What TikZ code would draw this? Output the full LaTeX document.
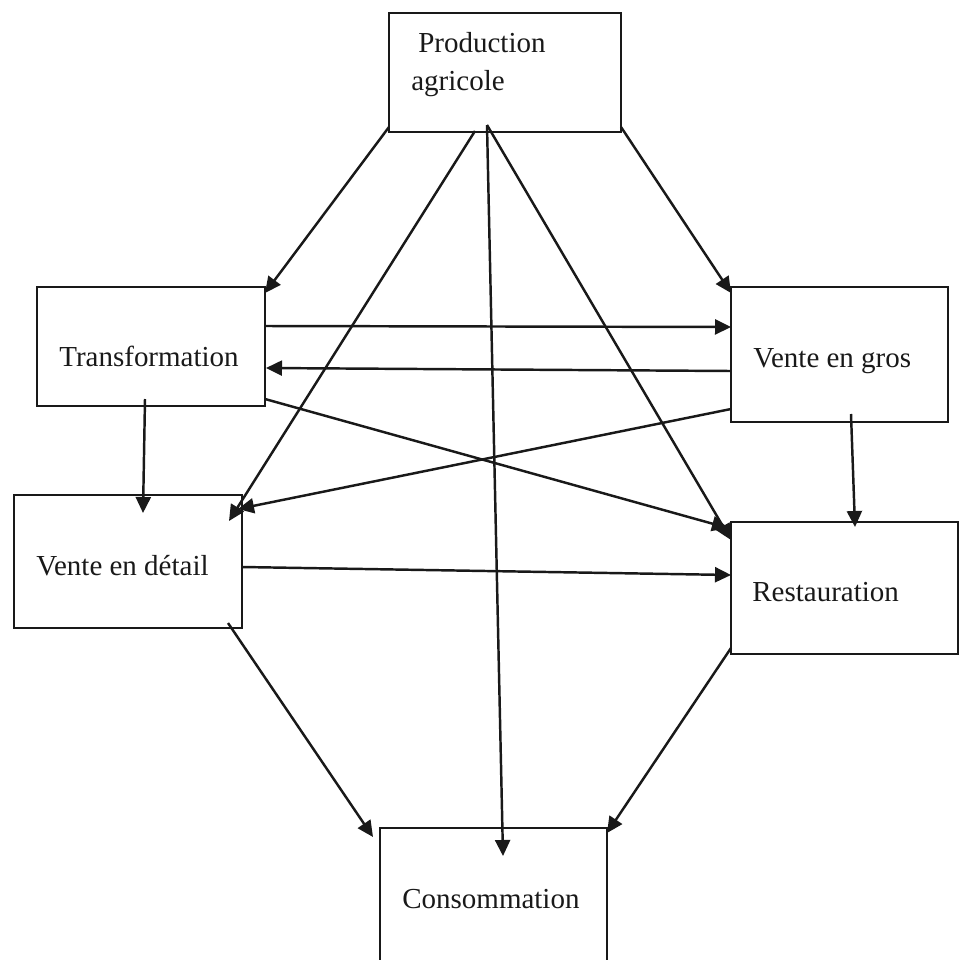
\documentclass[tikz,border=0pt]{standalone}
\usepackage{fontspec}
\setmainfont{Liberation Serif}
\usetikzlibrary{arrows.meta,fit}
\begin{document}
\begin{tikzpicture}[x=0.02cm,y=-0.02cm,
  box/.style={draw=black!90,line width=1.3pt,inner sep=0pt},
  lbl/.style={anchor=base west,inner sep=0pt,font=\fontsize{16.5}{20}\selectfont,text=black!90},
  conn/.style={draw=black!90,line width=1.4pt,-{Triangle[length=0.32cm,width=0.30cm]}}]
\useasboundingbox (0,0) rectangle (960,960);
\clip (0,0) rectangle (960,960);
% corner coordinates of boxes
\coordinate (prodA) at (389,13);  \coordinate (prodB) at (621,132);
\coordinate (transA) at (37,287); \coordinate (transB) at (265,406);
\coordinate (grosA) at (731,287); \coordinate (grosB) at (948,422);
\coordinate (detA) at (14,495);   \coordinate (detB) at (242,628);
\coordinate (restA) at (731,522); \coordinate (restB) at (958,654);
\coordinate (consA) at (380,828); \coordinate (consB) at (607,975);
% boxes
\node[box,fit=(prodA)(prodB)] (prod) {};
\node[box,fit=(transA)(transB)] (trans) {};
\node[box,fit=(grosA)(grosB)] (gros) {};
\node[box,fit=(detA)(detB)] (detail) {};
\node[box,fit=(restA)(restB)] (rest) {};
\node[box,fit=(consA)(consB)] (cons) {};
% labels
\node[lbl] (tprod1) at (418,52) {Production};
\node[lbl] (tprod2) at (411,90) {agricole};
\node[lbl] (ttrans) at (59,366) {Transformation};
\node[lbl] (tgros) at (753,367) {Vente en gros};
\node[lbl] (tdetail) at (36,575) {Vente en détail};
\node[lbl] (trest) at (752,601) {Restauration};
\node[lbl] (tcons) at (402,908) {Consommation};
% connector end points
\coordinate (pA) at (389,127);
\coordinate (pB) at (621,127);
\coordinate (pC) at (475,131);
\coordinate (pD) at (487,125);
\coordinate (trIn) at (265,293);
\coordinate (trOut1) at (265,326);
\coordinate (trIn2) at (266,368);
\coordinate (trOut2) at (265,399);
\coordinate (trOut3) at (145,399);
\coordinate (grIn) at (731,293);
\coordinate (grIn2) at (731,327);
\coordinate (grOut1) at (731,371);
\coordinate (grOut2) at (731,409);
\coordinate (grOut3) at (851,414);
\coordinate (deIn1) at (229,521);
\coordinate (deIn2) at (238,509);
\coordinate (deIn3) at (143,513);
\coordinate (deOut1) at (242,567);
\coordinate (deOut2) at (228,623);
\coordinate (reIn1) at (731,540);
\coordinate (reIn2) at (728,528);
\coordinate (reIn3) at (855,527);
\coordinate (reIn4) at (731,575);
\coordinate (reOut) at (731,648);
\coordinate (coIn1) at (503,856);
\coordinate (coIn2) at (373,837);
\coordinate (coIn3) at (607,833);
% connectors
\draw[conn] (pA) -- (trIn);
\draw[conn] (pB) -- (grIn);
\draw[conn] (pC) -- (deIn1);
\draw[conn] (pD) -- (coIn1);
\draw[conn] (pD) -- (reIn1);
\draw[conn] (trOut1) -- (grIn2);
\draw[conn] (grOut1) -- (trIn2);
\draw[conn] (trOut2) -- (reIn2);
\draw[conn] (grOut2) -- (deIn2);
\draw[conn] (trOut3) -- (deIn3);
\draw[conn] (grOut3) -- (reIn3);
\draw[conn] (deOut1) -- (reIn4);
\draw[conn] (deOut2) -- (coIn2);
\draw[conn] (reOut) -- (coIn3);
\end{tikzpicture}
\end{document}
